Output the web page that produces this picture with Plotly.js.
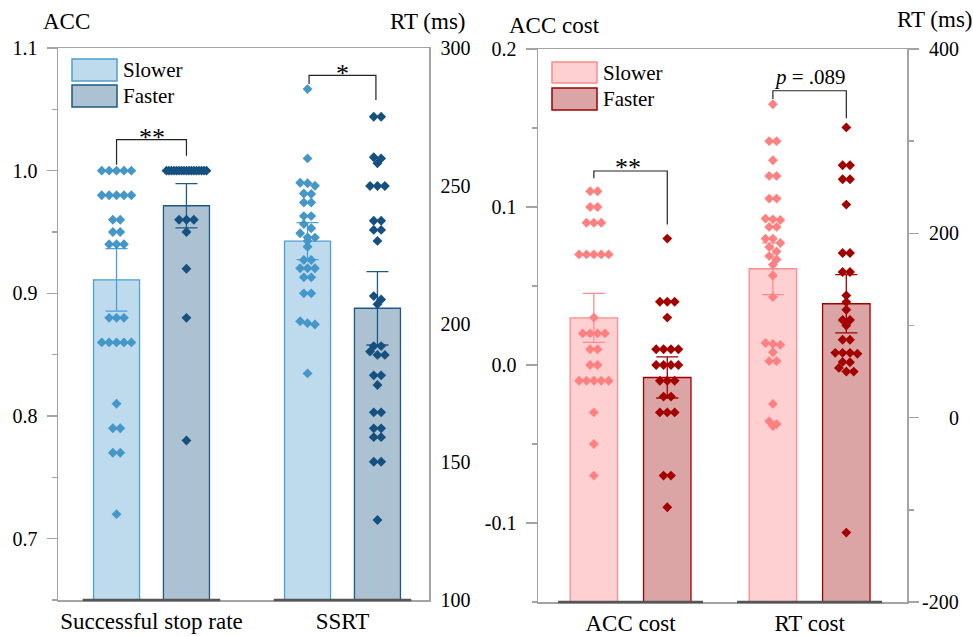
<!DOCTYPE html>
<html><head><meta charset="utf-8">
<script src="https://cdn.plot.ly/plotly-3.0.1.min.js"></script>
<style>html,body{margin:0;padding:0;background:#fff}</style>
</head><body><div id="chart" style="width:973px;height:636px"></div>
<script>
// ---------------- DATA ----------------
const groups = ['Slower', 'Faster'];
const leftCategories = ['Successful stop rate', 'SSRT'];
const rightCategories = ['ACC cost', 'RT cost'];

// Successful stop rate (ACC, left axis of left panel)
const stopRateSlower = [1.00,1.00,1.00,1.00,1.00, 0.98,0.98,0.98,0.98,0.98, 0.96,0.96, 0.95,0.95, 0.94,0.94,0.94,
  0.88,0.88,0.88, 0.86,0.86,0.86,0.86,0.86, 0.81, 0.79,0.79, 0.77,0.77, 0.72];
const stopRateFaster = [1.00,1.00,1.00,1.00,1.00,1.00,1.00,1.00,1.00,1.00,1.00,1.00,1.00,1.00,1.00,1.00,1.00,
  0.96,0.96,0.96, 0.95, 0.92, 0.88, 0.78];
const stopRateMeans = [0.911, 0.9714];
const stopRateErr = [0.0255, 0.018];

// SSRT (RT ms, right axis of left panel)
const ssrtSlower = [285.1, 260.0, 251.2, 251.0, 250.1, 247.3, 247.1, 244.0, 244.0, 239.1, 239.1, 236.2, 234.7,
  232.9, 231.4, 231.3, 230.1, 228.0, 223.2, 223.2, 220.2, 220.2, 220.2, 216.9, 216.9, 211.1, 211.1,
  201.0, 200.3, 199.8, 182.1];
const ssrtFaster = [275.1, 275.1, 260.4, 260.0, 258.2, 250.0, 250.0, 250.0, 237.4, 237.4, 234.1, 234.1, 230.1,
  210.1, 208.9, 207.2, 192.0, 192.0, 190.0, 188.8, 188.8, 181.4, 181.4, 177.9, 168.0, 168.0,
  162.2, 162.2, 159.0, 159.0, 150.1, 150.1, 129.0];
const ssrtMeans = [230.0, 205.7];
const ssrtErr = [6.7, 13.3];

// ACC cost (left axis of right panel)
const accCostSlower = [0.11,0.11, 0.10,0.10, 0.09,0.09,0.09, 0.07,0.07,0.07,0.07,0.07, 0.03,
  0.02,0.02,0.02,0.02, 0.01,0.01, 0.00,0.00, -0.01,-0.01,-0.01,-0.01,-0.01, -0.03, -0.05, -0.07];
const accCostFaster = [0.08, 0.04,0.04,0.04, 0.03, 0.01,0.01,0.01,0.01, 0.00,0.00,0.00,0.00,
  -0.01,-0.01,-0.01, -0.02,-0.02, -0.03,-0.03,-0.03, -0.07,-0.07, -0.09];
const accCostMeans = [0.0298, -0.0079];
const accCostErr = [0.0155, 0.013];

// RT cost (ms, right axis of right panel)
const rtCostSlower = [340, 300, 300, 279.3, 262.3, 262.3, 237.7, 237.7, 216, 215.2, 214.5, 207, 207,
  194.2, 194.2, 189.5, 185.1, 180.4, 175.3, 171.7, 166, 154.3, 130.8, 81, 80, 79, 71, 61.3, 61.3,
  14.9, -4, -7, -9];
const rtCostFaster = [314.9, 273.9, 273.9, 258.7, 258.7, 231.2, 178.6, 178.6, 158, 158, 132.6, 125.4, 117.1,
  106, 106, 100, 84.5, 84.5, 70.3, 70.3, 70.3, 69.3, 60.5, 60.1, 54, 50, 50, -124.7];
const rtCostMeans = [161.6, 123.6];
const rtCostErr = [28, 31.5];

// Tick labels
const leftAccTicks = [0.7, 0.8, 0.9, 1.0, 1.1];
const leftAccTickText = ['0.7', '0.8', '0.9', '1.0', '1.1'];
const leftRtTicks = [100, 150, 200, 250, 300];
const leftRtTickText = ['100', '150', '200', '250', '300'];
const rightAccTicks = [-0.1, 0.0, 0.1, 0.2];
const rightAccTickText = ['-0.1', '0.0', '0.1', '0.2'];
const rightRtTicks = [-200, 0, 200, 400];
const rightRtTickText = ['-200', '0', '200', '400'];

// ---------------- LAYOUT CONSTANTS ----------------
const W = 973, H = 636;
const px = x => x / W;
const py = y => 1 - y / H;
const FONT = 'Liberation Serif';
const AXIS_GRAY = '#a3a3a3';

const ranges = {
  y: [0.65, 1.1], y2: [100, 300], y3: [-0.15, 0.2], y4: [-200, 400],
  x: [-0.4895, 1.4529], x2: [-0.517, 1.544]
};
const domains = {
  x: [58 / W, 429 / W], x2: [538 / W, 907 / W],
  y: [py(600), py(48)], y3: [py(602), py(49)]
};
domains.y2 = domains.y; domains.y4 = domains.y3;

const blue = {
  fill: ['#bddbec', '#acc1d1'], edge: ['#4f9fcf', '#1e5a85'], pt: ['#4596c9', '#15507f']
};
const red = {
  fill: ['#ffd0d2', '#dba5a6'], edge: ['#ff8c8c', '#a00000'], pt: ['#ff8080', '#a30000']
};

const panels = [
  { xa: 'x', offset: 0.183, barW: 0.241, base: 0.36, colors: blue, series: [
    { cat: 0, ya: 'y', means: stopRateMeans, errs: stopRateErr, data: [stopRateSlower, stopRateFaster] },
    { cat: 1, ya: 'y2', means: ssrtMeans, errs: ssrtErr, data: [ssrtSlower, ssrtFaster] } ] },
  { xa: 'x2', offset: 0.205, barW: 0.265, base: 0.405, colors: red, series: [
    { cat: 0, ya: 'y3', means: accCostMeans, errs: accCostErr, data: [accCostSlower, accCostFaster] },
    { cat: 1, ya: 'y4', means: rtCostMeans, errs: rtCostErr, data: [rtCostSlower, rtCostFaster] } ] }
];

function pxPerUnitY(ya) {
  const d = domains[ya], r = ranges[ya];
  return (d[1] - d[0]) * H / (r[1] - r[0]);
}
function pxPerUnitX(xa) {
  const d = domains[xa], r = ranges[xa];
  return (d[1] - d[0]) * W / (r[1] - r[0]);
}

// Beeswarm-like horizontal spreading of points with (nearly) equal values
function swarmOffsets(values, kY, kX) {
  const order = values.map((v, i) => i).sort((a, b) => values[b] - values[a]);
  const out = new Array(values.length).fill(0);
  const clusters = []; let cur = [];
  order.forEach(i => {
    if (cur.length && Math.abs(values[cur[0]] - values[i]) * kY > 4.5) { clusters.push(cur); cur = []; }
    cur.push(i);
  });
  if (cur.length) clusters.push(cur);
  clusters.forEach(c => {
    const k = c.length;
    const step = k > 1 ? Math.min(7.4, 40 / (k - 1)) : 0;
    c.forEach((i, j) => { out[i] = (j - (k - 1) / 2) * step / kX; });
  });
  return out;
}

const barTraces = [], ptTraces = [], shapes = [];
panels.forEach(p => {
  p.series.forEach(s => {
    const base = ranges[s.ya][0];
    [0, 1].forEach(g => {
      const pos = s.cat + (g === 0 ? -p.offset : p.offset);
      barTraces.push({
        type: 'bar', x: [pos], y: [s.means[g] - base], base: [base], width: [p.barW],
        xaxis: p.xa, yaxis: s.ya, name: groups[g], showlegend: false, hoverinfo: 'skip',
        marker: { color: p.colors.fill[g], line: { color: p.colors.edge[g], width: 1.3 } },
        error_y: { type: 'data', array: [s.errs[g]], visible: true, color: p.colors.edge[g], thickness: 1.3, width: 11 }
      });
      const vals = s.data[g];
      const offs = swarmOffsets(vals, pxPerUnitY(s.ya), pxPerUnitX(p.xa));
      ptTraces.push({
        type: 'scatter', mode: 'markers', x: vals.map((v, i) => pos + offs[i]), y: vals,
        xaxis: p.xa, yaxis: s.ya, showlegend: false, hoverinfo: 'skip',
        marker: { symbol: 'diamond', size: 7.6, color: p.colors.pt[g], line: { width: 0 } }
      });
    });
    // dark baseline segment under each category
    shapes.push({ type: 'line', xref: p.xa, yref: s.ya + ' domain', x0: s.cat - p.base, x1: s.cat + p.base,
      y0: 0, y1: 0, line: { color: '#555555', width: 2.5 }, layer: 'above' });
  });
});

// Significance brackets
const brackets = [
  { xa: 'x', ya: 'y', c: 0, off: 0.183, top: 1.0253, l: 1.0049, r: 1.0122 },
  { xa: 'x', ya: 'y2', c: 1, off: 0.175, top: 290.1, l: 287.0, r: 281.2 },
  { xa: 'x2', ya: 'y3', c: 0, off: 0.205, top: 0.1228, l: 0.1182, r: 0.089 },
  { xa: 'x2', ya: 'y4', c: 1, off: 0.205, top: 354.7, l: 345.7, r: 325.0 }
];
brackets.forEach(b => {
  const x0 = b.c - b.off, x1 = b.c + b.off;
  shapes.push({ type: 'path', xref: b.xa, yref: b.ya,
    path: `M ${x0},${b.l} L ${x0},${b.top} L ${x1},${b.top} L ${x1},${b.r}`,
    line: { color: '#222222', width: 1.2 } });
});

// Legend swatches
const legendBoxes = [
  { x0: 72, x1: 117, y0: 59, y1: 81, c: blue, g: 0 }, { x0: 72, x1: 117, y0: 85, y1: 107, c: blue, g: 1 },
  { x0: 552, x1: 597, y0: 62, y1: 83, c: red, g: 0 }, { x0: 552, x1: 597, y0: 88, y1: 110, c: red, g: 1 }
];
legendBoxes.forEach(b => {
  shapes.push({ type: 'rect', xref: 'paper', yref: 'paper', x0: px(b.x0), x1: px(b.x1), y0: py(b.y1), y1: py(b.y0),
    fillcolor: b.c.fill[b.g], line: { color: b.c.edge[b.g], width: 1.5 } });
});

const txt = (text, x, y, size, opts = {}) => Object.assign({
  text, xref: 'paper', yref: 'paper', x: px(x), y: py(y), showarrow: false,
  xanchor: 'center', yanchor: 'middle', font: { family: FONT, size: size, color: '#000' }
}, opts);

const annotations = [
  txt('ACC', 41, 21, 23, { xanchor: 'left' }),
  txt('RT (ms)', 388, 22, 23, { xanchor: 'left' }),
  txt('ACC cost', 507, 25, 23, { xanchor: 'left' }),
  txt('RT (ms)', 895, 19, 23, { xanchor: 'left' }),
  txt(groups[0], 121, 70, 21, { xanchor: 'left' }),
  txt(groups[1], 121, 96, 21, { xanchor: 'left' }),
  txt(groups[0], 601, 73, 21, { xanchor: 'left' }),
  txt(groups[1], 601, 99, 21, { xanchor: 'left' }),
  txt('**', 151.5, 137, 26),
  txt('*', 342.5, 73, 26),
  txt('**', 628, 167, 26),
  txt('<i>p</i> = .089', 810, 77, 21)
];
// Right-aligned labels for the right axis of the right panel (placed on that axis' scale)
rightRtTicks.forEach((v, i) => {
  annotations.push({ text: rightRtTickText[i], xref: 'paper', x: px(961), xanchor: 'right',
    yref: 'y4', y: v, yanchor: 'middle', showarrow: false, font: { family: FONT, size: 20, color: '#000' } });
});

const tickFont = { family: FONT, size: 20, color: '#000' };
const catFont = { family: FONT, size: 23, color: '#000' };
const baseAxis = { showgrid: false, zeroline: false, showline: true, linecolor: AXIS_GRAY, linewidth: 1.5,
  tickfont: tickFont, fixedrange: true };

const layout = {
  width: W, height: H, margin: { l: 0, r: 0, t: 0, b: 0 },
  paper_bgcolor: '#fff', plot_bgcolor: 'rgba(0,0,0,0)', showlegend: false,
  font: { family: FONT, size: 20, color: '#000' },
  xaxis: Object.assign({}, baseAxis, { domain: domains.x, range: ranges.x, anchor: 'y', mirror: true,
    tickmode: 'array', tickvals: [0, 1], ticktext: leftCategories, ticks: '', tickfont: catFont, ticklabelstandoff: 0 }),
  yaxis: Object.assign({}, baseAxis, { domain: domains.y, range: ranges.y, anchor: 'x',
    tickmode: 'array', tickvals: leftAccTicks, ticktext: leftAccTickText, ticks: 'outside', ticklen: 10,
    tickcolor: AXIS_GRAY, tickwidth: 1.5, ticklabelstandoff: 5,
    minor: { tickmode: 'array', tickvals: [0.65, 0.75, 0.85, 0.95, 1.05], ticks: 'outside', ticklen: 5, tickcolor: AXIS_GRAY, tickwidth: 1.5 } }),
  yaxis2: Object.assign({}, baseAxis, { domain: domains.y2, range: ranges.y2, anchor: 'x', overlaying: 'y', side: 'right',
    tickmode: 'array', tickvals: leftRtTicks, ticktext: leftRtTickText, ticks: 'outside', ticklen: 6,
    tickcolor: 'rgba(0,0,0,0)', ticklabelstandoff: 0 }),
  xaxis2: Object.assign({}, baseAxis, { domain: domains.x2, range: ranges.x2, anchor: 'y3', mirror: true,
    tickmode: 'array', tickvals: [0, 1], ticktext: rightCategories, ticks: '', tickfont: catFont, ticklabelstandoff: 0 }),
  yaxis3: Object.assign({}, baseAxis, { domain: domains.y3, range: ranges.y3, anchor: 'x2',
    tickmode: 'array', tickvals: rightAccTicks, ticktext: rightAccTickText, ticks: 'outside', ticklen: 11,
    tickcolor: AXIS_GRAY, tickwidth: 1.5, ticklabelstandoff: 5,
    minor: { tickmode: 'array', tickvals: [-0.15, -0.05, 0.05, 0.15], ticks: 'outside', ticklen: 5, tickcolor: AXIS_GRAY, tickwidth: 1.5 } }),
  yaxis4: Object.assign({}, baseAxis, { domain: domains.y4, range: ranges.y4, anchor: 'x2', overlaying: 'y3', side: 'right',
    tickmode: 'array', tickvals: rightRtTicks, showticklabels: false, ticks: 'outside', ticklen: 10,
    tickcolor: AXIS_GRAY, tickwidth: 1.5,
    minor: { tickmode: 'array', tickvals: [-100, 100, 300], ticks: 'outside', ticklen: 5, tickcolor: AXIS_GRAY, tickwidth: 1.5 } }),
  shapes, annotations
};

Plotly.newPlot('chart', barTraces.concat(ptTraces), layout, { displayModeBar: false, staticPlot: true });
</script></body></html>
